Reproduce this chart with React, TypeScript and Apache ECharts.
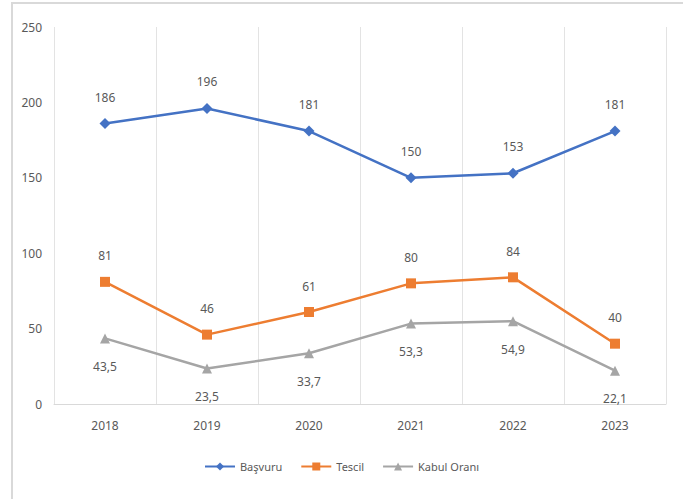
import React, { useEffect, useRef } from "react";
import * as echarts from "echarts";

const years = ["2018", "2019", "2020", "2021", "2022", "2023"];
const basvuru = [186, 196, 181, 150, 153, 181];
const tescil = [81, 46, 61, 80, 84, 40];
const kabulOrani = [43.5, 23.5, 33.7, 53.3, 54.9, 22.1];

const FONT = "Noto Sans";
const TEXT = "#595959";

export default function App() {
  const ref = useRef<HTMLDivElement>(null);
  useEffect(() => {
    if (!ref.current) return;
    const chart = echarts.init(ref.current, null, { renderer: "svg" });
    const fmt = (p: any) => String(p.value).replace(".", ",");
    chart.setOption({
      animation: false,
      backgroundColor: "#ffffff",
      textStyle: { fontFamily: FONT },
      graphic: [
        {
          type: "rect",
          shape: { x: 12, y: 3, width: 700, height: 520 },
          style: { fill: "none", stroke: "#d9d9d9", lineWidth: 2 },
          silent: true,
        },
      ],
      grid: { left: 54, right: 17, top: 27, bottom: 95, containLabel: false },
      legend: {
        bottom: 22,
        left: "center",
        itemWidth: 30,
        itemHeight: 10,
        itemGap: 18,
        textStyle: { color: TEXT, fontSize: 11, fontFamily: FONT },
        data: ["Başvuru", "Tescil", "Kabul Oranı"],
      },
      xAxis: {
        type: "category",
        data: years,
        boundaryGap: true,
        axisLine: { lineStyle: { color: "#d9d9d9", width: 1 } },
        axisTick: { show: false },
        splitLine: { show: true, lineStyle: { color: "#e3e3e3", width: 1 } },
        axisLabel: { color: TEXT, fontSize: 12, margin: 15, fontFamily: FONT },
      },
      yAxis: {
        type: "value",
        min: 0,
        max: 250,
        interval: 50,
        axisLine: { show: false },
        axisTick: { show: false },
        splitLine: { show: false },
        axisLabel: { color: TEXT, fontSize: 12, margin: 12, fontFamily: FONT },
      },
      series: [
        {
          name: "Başvuru",
          type: "line",
          data: basvuru,
          color: "#4472C4",
          symbol: "diamond",
          symbolSize: 11,
          lineStyle: { width: 2.5 },
          label: { show: true, position: "top", distance: 15, color: TEXT, fontSize: 12, fontFamily: FONT },
        },
        {
          name: "Tescil",
          type: "line",
          data: tescil,
          color: "#ED7D31",
          symbol: "rect",
          symbolSize: 10,
          lineStyle: { width: 2.5 },
          label: { show: true, position: "top", distance: 15, color: TEXT, fontSize: 12, fontFamily: FONT },
        },
        {
          name: "Kabul Oranı",
          type: "line",
          data: kabulOrani,
          color: "#A5A5A5",
          symbol: "triangle",
          symbolSize: 10,
          lineStyle: { width: 2.5 },
          label: { show: true, position: "bottom", distance: 17, color: TEXT, fontSize: 12, fontFamily: FONT, formatter: fmt },
        },
      ],
    });
    return () => chart.dispose();
  }, []);
  return (
    <div
      ref={ref}
      style={{ position: "fixed", left: 0, top: 0, width: 683, height: 499 }}
    />
  );
}
